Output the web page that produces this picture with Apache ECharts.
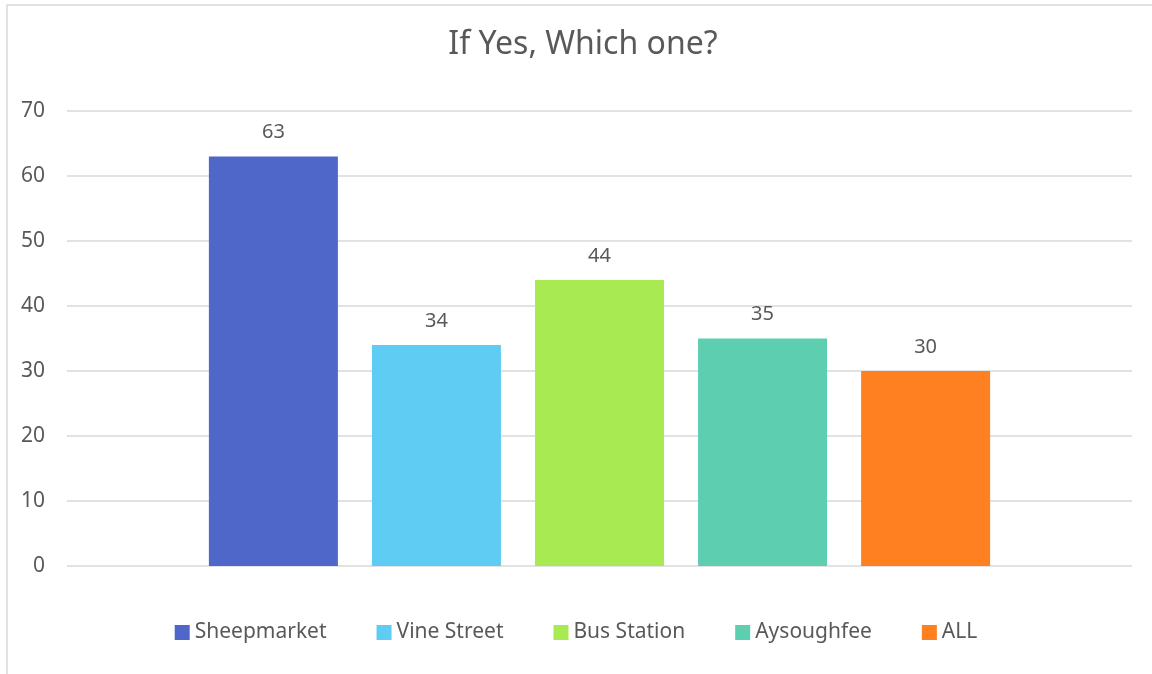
<!DOCTYPE html>
<html>
<head>
<meta charset="utf-8">
<script src="https://cdn.jsdelivr.net/npm/echarts@6/dist/echarts.min.js"></script>
<style>
  html, body { margin: 0; padding: 0; background: #fff; }
  #main { width: 1152px; height: 674px; }
</style>
</head>
<body>
<div id="main"></div>
<script>
// data
const seriesNames = ['Sheepmarket', 'Vine Street', 'Bus Station', 'Aysoughfee', 'ALL']
const seriesValues = [63, 34, 44, 35, 30]
const seriesColors = ['#4E67C8', '#5ECCF3', '#A7EA52', '#5DCEAF', '#FF8021']
const categories = ['']
const yTicks = { min: 0, max: 70, interval: 10 }

const textColor = '#595959'
const fontFamily = '"Noto Sans", "Open Sans", sans-serif'

const chart = echarts.init(document.getElementById('main'))

const series = seriesNames.map(function (name, i) {
    return {
        name: name,
        type: 'bar',
        data: [seriesValues[i]],
        barWidth: 129,
        barGap: '26.4%',
        itemStyle: { color: seriesColors[i] },
        label: {
            show: true,
            position: 'top',
            distance: 14,
            color: textColor,
            fontSize: 20,
            fontFamily: fontFamily
        }
    }
})

chart.setOption({
    animation: false,
    backgroundColor: '#fff',
    graphic: [
        {
            // chart border, only top and left edges show in the frame
            type: 'rect',
            shape: { x: 7, y: 5, width: 1200, height: 700 },
            style: { fill: 'none', stroke: '#D9D9D9', lineWidth: 1.5 },
            silent: true
        },
        {
            type: 'text',
            x: 583,
            y: 45,
            style: {
                text: 'If Yes, Which one?',
                fill: textColor,
                fontSize: 32,
                fontFamily: fontFamily,
                align: 'center',
                verticalAlign: 'middle'
            }
        }
    ],
    legend: {
        data: seriesNames,
        left: 'center',
        top: 617,
        icon: 'rect',
        itemWidth: 15,
        itemHeight: 15,
        itemGap: 50,
        textStyle: { color: textColor, fontSize: 21, fontFamily: fontFamily }
    },
    grid: {
        left: 67,
        right: 20,
        top: 111,
        bottom: 108,
        containLabel: false
    },
    xAxis: {
        type: 'category',
        data: categories,
        axisLine: { show: false },
        axisTick: { show: false },
        axisLabel: { show: false }
    },
    yAxis: {
        type: 'value',
        min: yTicks.min,
        max: yTicks.max,
        interval: yTicks.interval,
        axisLine: { show: false },
        axisTick: { show: false },
        axisLabel: { color: textColor, fontSize: 21, fontFamily: fontFamily, margin: 22 },
        splitLine: { lineStyle: { color: '#D9D9D9', width: 1.5 } }
    },
    series: series
})
</script>
</body>
</html>
